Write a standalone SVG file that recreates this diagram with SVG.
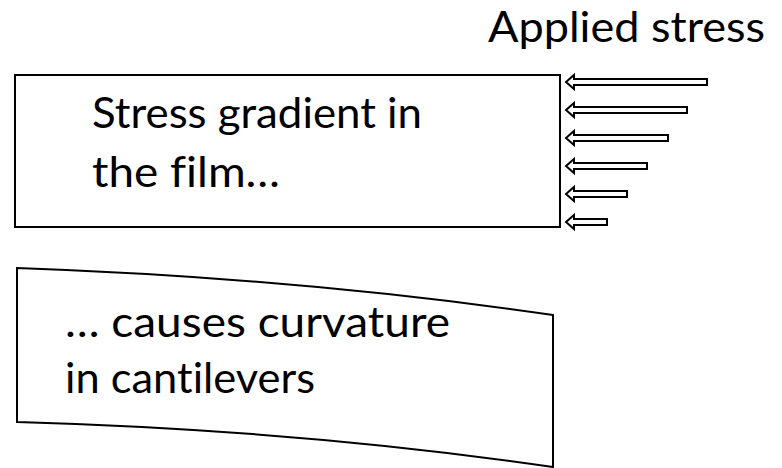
<svg xmlns="http://www.w3.org/2000/svg" width="782" height="468" viewBox="0 0 782 468">
<style>
.t{font-family:Lato,"Open Sans",sans-serif;font-size:43px;fill:#000;font-variant-ligatures:none}
.box{fill:#fff;stroke:#000;stroke-width:2}
.arr{fill:#fff;stroke:#000;stroke-width:2;stroke-linejoin:miter}
</style>
<rect width="782" height="468" fill="#fff"/>
<text class="t" x="488" y="42" textLength="277" lengthAdjust="spacingAndGlyphs">Applied stress</text>
<g id="film">
<rect class="box" x="15" y="75" width="545" height="152"/>
<text class="t" x="92" y="128" textLength="330" lengthAdjust="spacingAndGlyphs">Stress gradient in</text>
<text class="t" x="92" y="187" textLength="188" lengthAdjust="spacingAndGlyphs">the film…</text>
</g>
<g id="cantilever">
<path class="box" d="M17,268 Q300,278 553,315 L553,467 Q300,430 17,422 Z"/>
<text class="t" x="65" y="337" textLength="385" lengthAdjust="spacingAndGlyphs">… causes curvature</text>
<text class="t" x="65" y="393" textLength="250" lengthAdjust="spacingAndGlyphs">in cantilevers</text>
</g>
<g id="connectors">
<polygon class="arr" points="566,82 574,75 574,79 707,79 707,85 574,85 574,89"/>
<polygon class="arr" points="566,110 574,103 574,107 687,107 687,113 574,113 574,117"/>
<polygon class="arr" points="566,138 574,131 574,135 668,135 668,141 574,141 574,145"/>
<polygon class="arr" points="566,166 574,159 574,163 647,163 647,169 574,169 574,173"/>
<polygon class="arr" points="566,194 574,187 574,191 627,191 627,197 574,197 574,201"/>
<polygon class="arr" points="566,222 574,215 574,219 607,219 607,225 574,225 574,229"/>
</g>
</svg>
